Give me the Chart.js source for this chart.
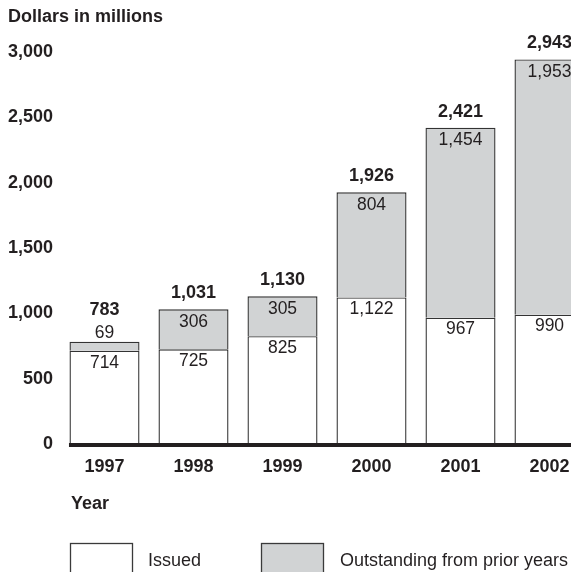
<!DOCTYPE html>
<html>
<head>
<meta charset="utf-8">
<script src="https://cdn.jsdelivr.net/npm/chart.js@4.4.1/dist/chart.umd.min.js"></script>
<style>
  html, body { margin: 0; padding: 0; background: #fff; overflow: hidden; }
  #wrap { width: 571px; height: 572px; overflow: hidden; }
</style>
</head>
<body>
<div id="wrap"><canvas id="chart" width="600" height="572"></canvas></div>
<script>
const years = ['1997', '1998', '1999', '2000', '2001', '2002']
const issued = [714, 725, 825, 1122, 967, 990]
const outstanding = [69, 306, 305, 804, 1454, 1953]
const totals = [783, 1031, 1130, 1926, 2421, 2943]
const yTicks = [0, 500, 1000, 1500, 2000, 2500, 3000]

const ink = '#231f20'
const grey = '#d1d3d4'
const font = 'Liberation Sans, Arial, Helvetica, sans-serif'
const fmt = (v) => v.toLocaleString('en-US')

// labels inside / above the bars, baseline, axis captions and legend
const extras = {
    id: 'extras',
    afterDatasetsDraw(chart) {
        const ctx = chart.ctx
        const low = chart.getDatasetMeta(0).data
        const high = chart.getDatasetMeta(1).data
        ctx.save()
        ctx.fillStyle = ink
        ctx.textAlign = 'center'
        ctx.textBaseline = 'middle'
        low.forEach((bar, i) => {
            const top = high[i]
            ctx.font = '17.5px ' + font
            ctx.fillText(fmt(issued[i]), bar.x, bar.y + 12)
            const h = top.base - top.y
            let totalY
            if (h > 26) {
                ctx.fillText(fmt(outstanding[i]), top.x, top.y + 13)
                totalY = top.y - 16
            } else {
                ctx.fillText(fmt(outstanding[i]), top.x, top.y - 9)
                totalY = top.y - 32
            }
            ctx.font = 'bold 18px ' + font
            ctx.fillText(fmt(totals[i]), top.x, totalY)
        })

        // thick baseline
        const first = low[0]
        const y0 = chart.scales.y.getPixelForValue(0)
        ctx.fillStyle = ink
        ctx.fillRect(first.x - first.width / 2 - 0.5, y0 - 1, chart.width, 4)

        ctx.textAlign = 'left'
        ctx.font = 'bold 18px ' + font
        ctx.fillText('Dollars in millions', 8, 17)
        ctx.fillText('Year', 71, 504)

        // legend
        ctx.lineWidth = 1.3
        ctx.strokeStyle = '#3a3a3a'
        ctx.fillStyle = '#fff'
        ctx.fillRect(70.5, 543.5, 62, 40)
        ctx.strokeRect(70.5, 543.5, 62, 40)
        ctx.fillStyle = grey
        ctx.fillRect(261.5, 543.5, 62, 40)
        ctx.strokeRect(261.5, 543.5, 62, 40)
        ctx.fillStyle = ink
        ctx.font = '18px ' + font
        ctx.fillText('Issued', 148, 561)
        ctx.fillText('Outstanding from prior years', 340, 561)
        ctx.restore()
    }
}

new Chart(document.getElementById('chart').getContext('2d'), {
    type: 'bar',
    data: {
        labels: years,
        datasets: [{
            label: 'Issued',
            data: issued,
            backgroundColor: '#ffffff',
            borderColor: '#333333',
            borderWidth: 1.4
        },
        {
            label: 'Outstanding from prior years',
            data: outstanding,
            backgroundColor: grey,
            borderColor: '#333333',
            borderWidth: 1.4
        }]
    },
    options: {
        responsive: false,
        animation: false,
        events: [],
        layout: { padding: { top: 52, right: 6, bottom: 0, left: 0 } },
        plugins: { legend: { display: false }, tooltip: { enabled: false } },
        datasets: { bar: { categoryPercentage: 1, barPercentage: 0.787 } },
        scales: {
            x: {
                stacked: true,
                grid: { display: false, drawTicks: false },
                border: { display: false },
                ticks: { color: ink, padding: 12, font: { family: font, size: 18, weight: 'bold' } },
                afterFit: (scale) => { scale.height = 128 }
            },
            y: {
                stacked: true,
                min: 0,
                max: 3000,
                grid: { display: false, drawTicks: false },
                border: { display: false },
                afterBuildTicks: (scale) => { scale.ticks = yTicks.map((v) => ({ value: v })) },
                ticks: {
                    color: ink,
                    padding: 7,
                    callback: (v) => fmt(v),
                    font: { family: font, size: 18, weight: 'bold' }
                },
                afterFit: (scale) => { scale.width = 60 }
            }
        }
    },
    plugins: [extras]
})
</script>
</body>
</html>
